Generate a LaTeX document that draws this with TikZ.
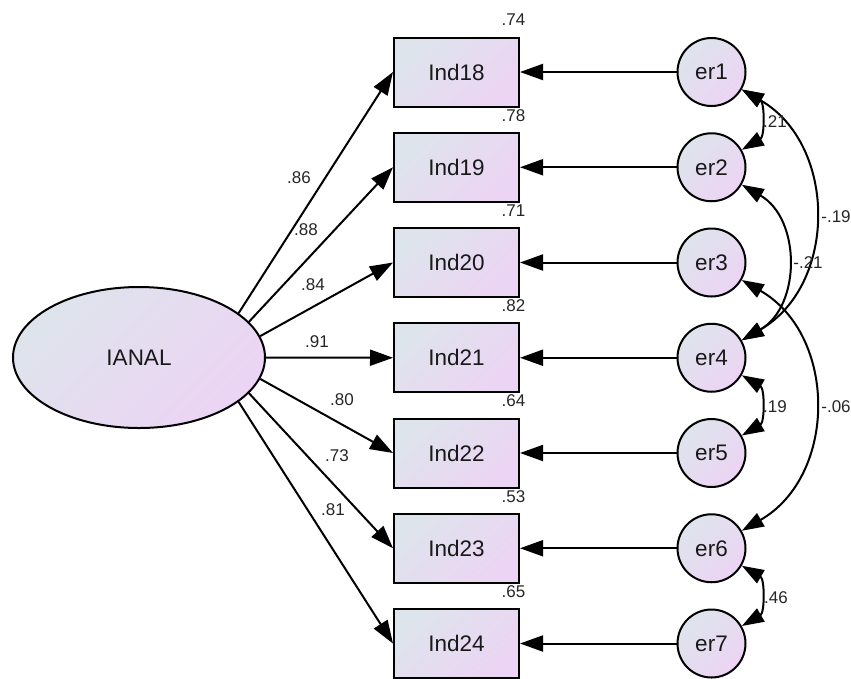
\documentclass[tikz,border=0pt]{standalone}
\usepackage{fontspec}
\setmainfont{Liberation Sans}
\usetikzlibrary{arrows.meta,shapes.geometric,calc}
\definecolor{fillA}{RGB}{222,228,236}
\definecolor{fillB}{RGB}{236,212,244}
\begin{document}
\begin{tikzpicture}[x=1pt,y=-1pt,
  grad/.style={top color=fillA, bottom color=fillB, shading angle=45},
  obs/.style={draw, line width=2pt, minimum width=125pt, minimum height=69pt, inner sep=0pt,
    grad, text=black!90, font=\fontsize{22.5}{24}\selectfont},
  errc/.style={circle, draw, line width=2pt, minimum size=68pt, inner sep=0pt,
    grad, text=black!90, font=\fontsize{22.5}{24}\selectfont},
  lat/.style={ellipse, draw, line width=2pt, minimum width=252pt, minimum height=141pt, inner sep=0pt,
    grad, text=black!90, font=\fontsize{22.5}{24}\selectfont},
  lbl/.style={font=\fontsize{17}{18}\selectfont, inner sep=0pt, text=black!85},
  arr/.style={line width=2pt, -{Triangle[length=23pt,width=16pt]}},
  cov/.style={line width=2pt, {Triangle[length=22pt,width=15pt]}-{Triangle[length=22pt,width=15pt]},
    bend left=60, looseness=1.13},
]
\useasboundingbox (0,0) rectangle (851,678);

\node[lat] (lat) at (139,357.5) {IANAL};

\foreach \i/\name/\rr in {1/Ind18/.74, 2/Ind19/.78, 3/Ind20/.71, 4/Ind21/.82, 5/Ind22/.64, 6/Ind23/.53, 7/Ind24/.65}{
  \pgfmathsetmacro{\yy}{72+95.25*(\i-1)}
  \node[obs] (b\i) at (456.5,\yy) {\name};
  \node[errc] (e\i) at (711.5,\yy) {er\i};
  \node[lbl] (r\i) at (513.5,\yy-52) {\rr};
  \draw[arr] (e\i.west) -- (b\i.east);
}

\foreach \i/\a in {1/24, 2/18, 3/10, 4/0, 5/-10, 6/-18, 7/-24}{
  \draw[arr] (lat.\a) -- (b\i.west);
}

\node[lbl] (l1) at (299,178) {.86};
\node[lbl] (l2) at (306,230) {.88};
\node[lbl] (l3) at (313,285) {.84};
\node[lbl] (l4) at (317,342) {.91};
\node[lbl] (l5) at (342,400) {.80};
\node[lbl] (l6) at (337,456) {.73};
\node[lbl] (l7) at (333,510) {.81};

\draw[cov] (e1.-30) to (e2.30);
\draw[cov] (e1.-30) to (e4.30);
\draw[cov] (e2.-30) to (e4.30);
\draw[cov] (e3.-30) to (e6.30);
\draw[cov] (e4.-30) to (e5.30);
\draw[cov] (e6.-30) to (e7.30);

\node[lbl] (c1) at (775,122) {.21};
\node[lbl] (c2) at (836,217) {-.19};
\node[lbl] (c3) at (808,263) {-.21};
\node[lbl] (c4) at (775,407) {.19};
\node[lbl] (c5) at (836,407) {-.06};
\node[lbl] (c6) at (776,598) {.46};
\end{tikzpicture}
\end{document}
